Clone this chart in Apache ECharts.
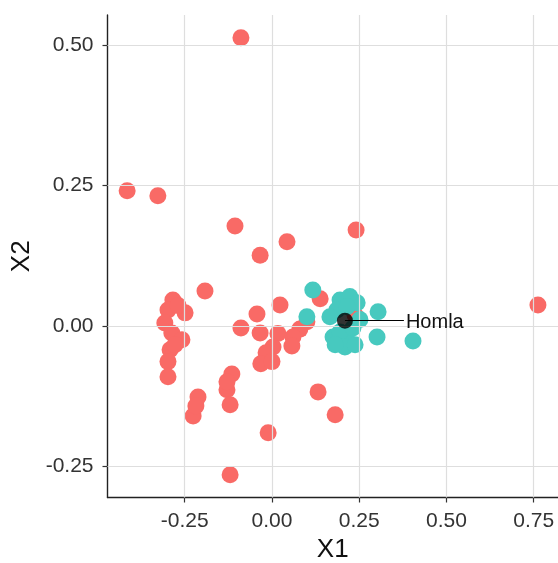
<!DOCTYPE html>
<html><head><meta charset="utf-8">
<script src="https://cdn.jsdelivr.net/npm/echarts@6/dist/echarts.min.js"></script>
<style>html,body{margin:0;padding:0;background:#fff}#c{width:558px;height:563px}</style>
</head><body><div id="c"></div>
<script>
const xTicks = [-0.25, 0.00, 0.25, 0.50, 0.75];
const yTicks = [-0.25, 0.00, 0.25, 0.50];
const redX = [-0.089,-0.415,-0.327,-0.106,0.043,0.241,-0.034,-0.192,0.023,-0.043,-0.089,-0.034,0.017,0.100,0.080,0.060,0.057,0.003,-0.017,-0.032,0.000,0.138,0.238,0.762,-0.284,-0.298,-0.249,-0.307,-0.287,-0.258,-0.292,-0.298,-0.298,-0.269,-0.115,-0.129,-0.120,-0.212,-0.226,-0.011,0.132,0.181,-0.120,-0.129,-0.278,-0.218];
const redY = [0.514,0.241,0.232,0.178,0.150,0.171,0.126,0.062,0.037,0.021,-0.004,-0.013,-0.014,0.007,-0.006,-0.020,-0.036,-0.038,-0.048,-0.068,-0.064,0.048,0.019,0.037,0.046,0.028,0.023,0.005,-0.013,-0.025,-0.043,-0.064,-0.091,0.036,-0.086,-0.114,-0.141,-0.127,-0.161,-0.191,-0.118,-0.159,-0.266,-0.100,-0.034,-0.143];
const tealX = [0.117,0.195,0.223,0.244,0.186,0.166,0.100,0.304,0.301,0.404,0.175,0.215,0.195,0.232,0.215,0.209,0.181,0.238,0.252];
const tealY = [0.064,0.046,0.052,0.041,0.028,0.016,0.016,0.025,-0.020,-0.027,-0.020,-0.025,-0.011,-0.004,0.034,-0.038,-0.034,-0.034,0.011];
const highlightName = 'Homla';
const highlightPoint = [0.209, 0.009];
const labelLineEndX = 0.378;

const zip = (a,b) => a.map((v,i)=>[v,b[i]]);
const gridColor = '#DEDEDE';
const font = 'Liberation Sans';
const chart = echarts.init(document.getElementById('c'));
chart.setOption({
  animation:false,
  grid:{left:107.5, top:15, right:0, bottom:65.5, containLabel:false, outerBoundsMode:'none'},
  xAxis:{type:'value', min:-0.4713, max:0.8195,
    name:'X1', nameLocation:'middle', nameGap:37,
    nameTextStyle:{fontSize:26, color:'#111', fontFamily:font},
    axisLine:{show:true, onZero:false, lineStyle:{color:'#222', width:1.4}},
    axisTick:{show:true, length:5, customValues:xTicks, lineStyle:{color:'#333', width:1.2}},
    axisLabel:{customValues:xTicks, fontSize:21, color:'#333', margin:13, fontFamily:font,
      formatter:v=>v.toFixed(2)},
    splitLine:{show:false}},
  yAxis:{type:'value', min:-0.3065, max:0.5546,
    name:'X2', nameLocation:'middle', nameGap:63,
    nameTextStyle:{fontSize:26, color:'#111', fontFamily:font},
    axisLine:{show:true, onZero:false, lineStyle:{color:'#222', width:1.4}},
    axisTick:{show:true, length:5, customValues:yTicks, lineStyle:{color:'#333', width:1.2}},
    axisLabel:{customValues:yTicks, fontSize:21, color:'#333', margin:14, fontFamily:font,
      formatter:v=>v.toFixed(2)},
    splitLine:{show:false}},
  series:[
    {type:'scatter', data:[], z:1, silent:true,
      markLine:{silent:true, symbol:'none', animation:false, label:{show:false},
        lineStyle:{color:gridColor, type:'solid', width:1.2},
        data: xTicks.map(v=>({xAxis:v})).concat(yTicks.map(v=>({yAxis:v})))}},
    {type:'scatter', data:zip(redX,redY), symbolSize:17, z:3,
      itemStyle:{color:'#F96A66', opacity:1}},
    {type:'scatter', data:zip(tealX,tealY), symbolSize:17, z:4,
      itemStyle:{color:'#47C9BF', opacity:1}},
    {type:'scatter', data:[highlightPoint], symbolSize:16, z:6,
      itemStyle:{color:'#000'},
      markLine:{silent:true, symbol:'none', animation:false, z:5,
        lineStyle:{color:'#000', type:'solid', width:1},
        label:{show:true, position:'end', formatter:highlightName, fontSize:20, color:'#111', distance:2, offset:[0,2], fontFamily:font},
        data:[[{coord:highlightPoint},{coord:[labelLineEndX, highlightPoint[1]]}]]}}
  ]
});
</script></body></html>
